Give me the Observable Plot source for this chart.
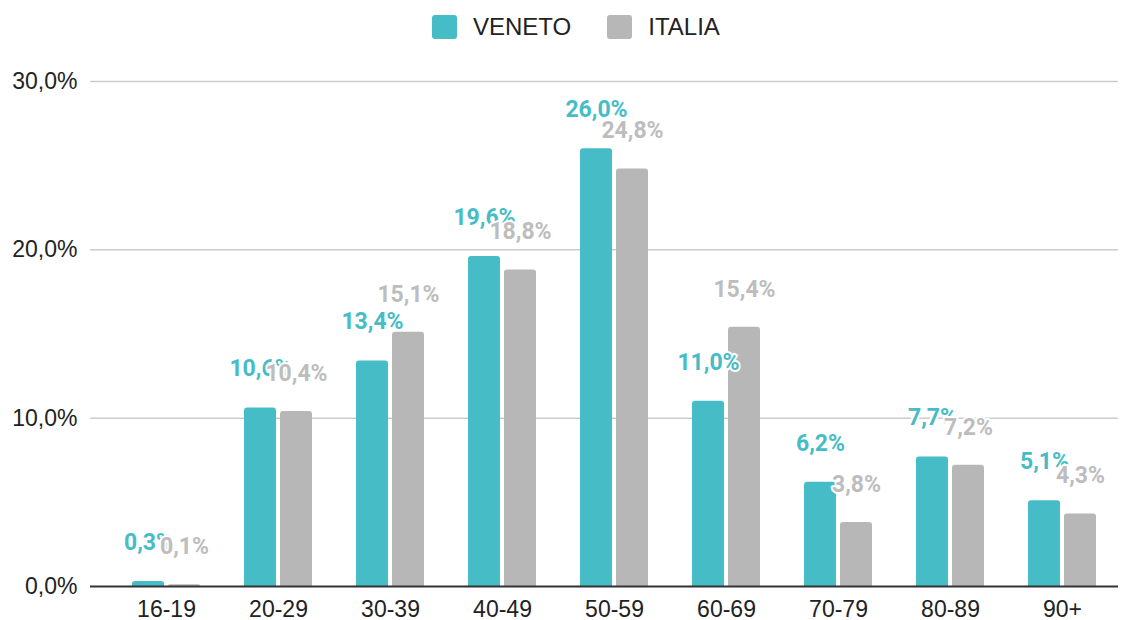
<!DOCTYPE html>
<html>
<head>
<meta charset="utf-8">
<script src="https://cdn.jsdelivr.net/npm/d3@7"></script>
<script src="https://cdn.jsdelivr.net/npm/@observablehq/plot@0.6"></script>
<style>
  body { margin: 0; background: #fff; }
  #legend { height: 54px; display: flex; align-items: center; padding-left: 432px;
            font: 24px "Liberation Sans", Arial, sans-serif; color: #222; }
  .sw { width: 25px; height: 24px; border-radius: 3px; margin-right: 16px; }
  .lab { margin-right: 36px; }
</style>
</head>
<body>
<div id="legend"></div>
<div id="chart"></div>
<script>
const categories = ["16-19", "20-29", "30-39", "40-49", "50-59", "60-69", "70-79", "80-89", "90+"];
const veneto = [0.3, 10.6, 13.4, 19.6, 26.0, 11.0, 6.2, 7.7, 5.1];
const italia = [0.1, 10.4, 15.1, 18.8, 24.8, 15.4, 3.8, 7.2, 4.3];
const seriesNames = ["VENETO", "ITALIA"];
const seriesColors = ["#46bdc6", "#b7b7b7"];
const yTicks = [0, 10, 20, 30];

const fmt = v => v.toFixed(1).replace(".", ",") + "%";

const legend = document.getElementById("legend");
seriesNames.forEach((n, i) => {
  const s = document.createElement("div"); s.className = "sw"; s.style.background = seriesColors[i];
  const t = document.createElement("div"); t.className = "lab"; t.textContent = n;
  legend.append(s, t);
});

const vdata = categories.map((c, i) => ({cat: c, v: veneto[i]}));
const idata = categories.map((c, i) => ({cat: c, v: italia[i]}));

const labelStyle = {stroke: "white", strokeWidth: 4, fontWeight: "bold", fontFamily: "Roboto, sans-serif", fontSize: 23};

const chart = Plot.plot({
  width: 1131, height: 566,
  marginTop: 27, marginBottom: 34, marginLeft: 90, marginRight: 13,
  style: {fontFamily: '"Liberation Sans", Arial, sans-serif', fontSize: "23px", color: "#222", background: "white", overflow: "visible"},
  x: {domain: categories, range: [107, 1120], paddingInner: 0.396, paddingOuter: 0.198, label: null, tickSize: 0, tickPadding: 14},
  y: {domain: [0, 30], ticks: yTicks, tickFormat: fmt, label: null, tickSize: 0, tickPadding: 13},
  marks: [
    Plot.ruleY(yTicks.filter(d => d > 0), {stroke: "#cccccc", strokeWidth: 1.5}),
    Plot.barY(vdata, {x: "cat", y: "v", fill: seriesColors[0], insetRight: 36, rx: 3}),
    Plot.barY(vdata, {x: "cat", y: d => d.v / 2, fill: seriesColors[0], insetRight: 36}),
    Plot.barY(idata, {x: "cat", y: "v", fill: seriesColors[1], insetLeft: 36, rx: 3}),
    Plot.barY(idata, {x: "cat", y: d => d.v / 2, fill: seriesColors[1], insetLeft: 36}),
    Plot.ruleY([0], {stroke: "#333", strokeWidth: 2}),
    Plot.text(vdata, {x: "cat", y: "v", text: d => fmt(d.v), dx: -18, dy: -39, fill: seriesColors[0], ...labelStyle}),
    Plot.text(idata, {x: "cat", y: "v", text: d => fmt(d.v), dx: 18, dy: -38, fill: "#bdbdbd", ...labelStyle})
  ]
});
document.getElementById("chart").append(chart);
</script>
</body>
</html>
